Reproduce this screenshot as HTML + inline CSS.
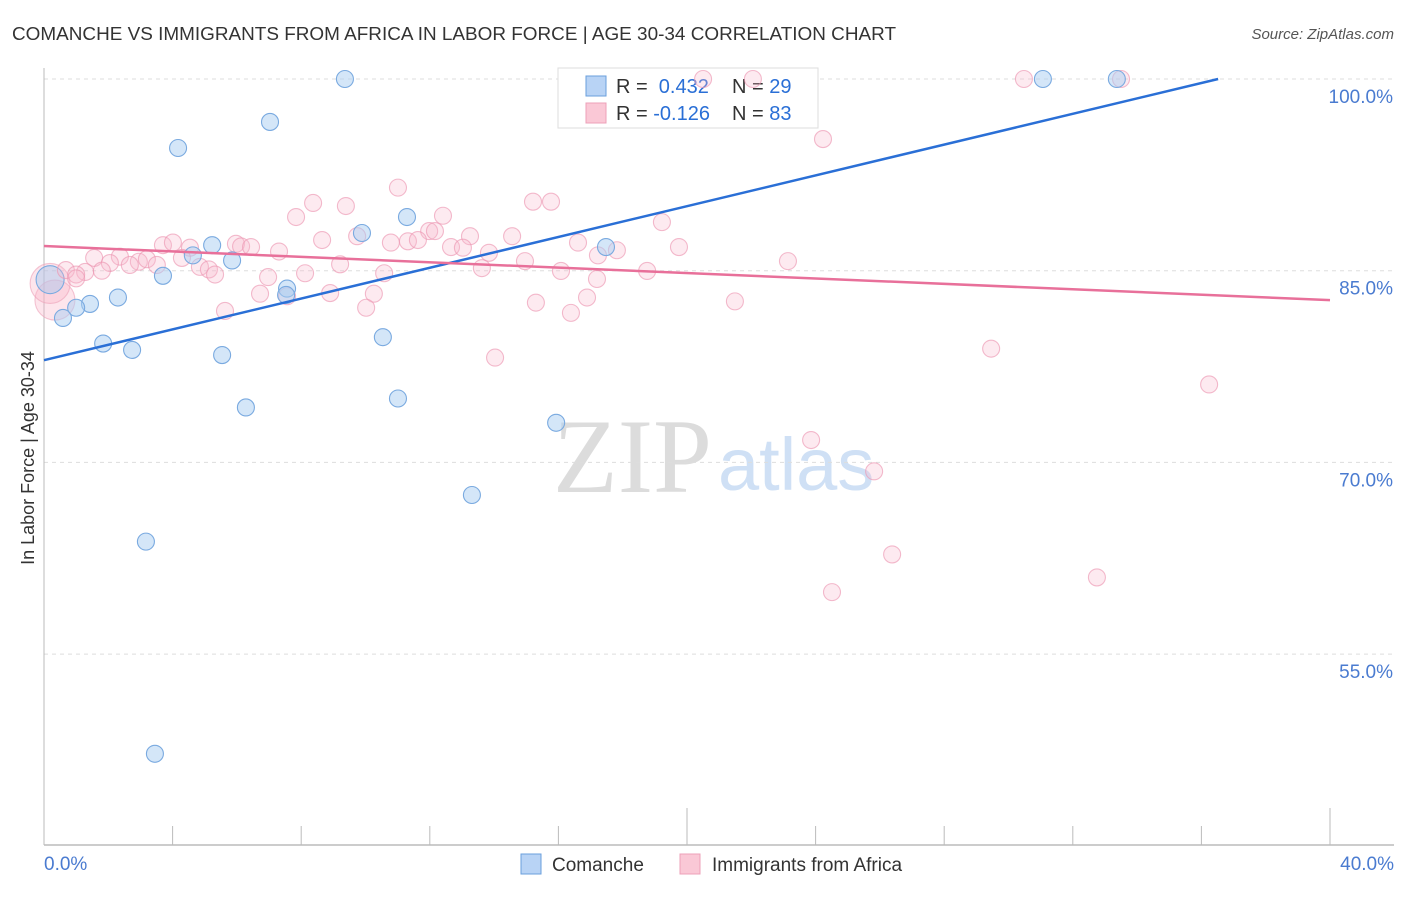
<!DOCTYPE html>
<html><head><meta charset="utf-8"><style>
body{margin:0;background:#fff;font-family:"Liberation Sans",sans-serif}
</style></head><body>
<svg id="c" width="1406" height="892" xmlns="http://www.w3.org/2000/svg">
<text x="12" y="40" font-size="18" fill="#333" textLength="884" lengthAdjust="spacingAndGlyphs">COMANCHE VS IMMIGRANTS FROM AFRICA IN LABOR FORCE | AGE 30-34 CORRELATION CHART</text>
<text x="1394" y="39" font-size="15" fill="#555" font-style="italic" text-anchor="end">Source: ZipAtlas.com</text>
<text x="34" y="458" font-size="18" fill="#333" text-anchor="middle" transform="rotate(-90 34 458)">In Labor Force | Age 30-34</text>
<g>
<text x="553" y="492" font-size="106" fill="#dcdcdc" font-family="Liberation Serif,serif">ZIP</text>
<text x="718" y="490" font-size="74" fill="#cfe0f5">atlas</text>
</g>
<g id="grid"></g><g id="axes"></g>
<g>
<rect x="558" y="68" width="260" height="60" fill="#fff" stroke="#ddd"/>
<rect x="586" y="76" width="20" height="20" fill="#b8d3f5" stroke="#6a9fdc"/>
<rect x="586" y="103" width="20" height="20" fill="#fac8d6" stroke="#eda0b8"/>
<text x="616" y="93" font-size="20" fill="#333">R = <tspan fill="#2a6fd6">&#160;0.432</tspan></text>
<text x="732" y="93" font-size="20" fill="#333">N = <tspan fill="#2a6fd6">29</tspan></text>
<text x="616" y="120" font-size="20" fill="#333">R = <tspan fill="#2a6fd6">-0.126</tspan></text>
<text x="732" y="120" font-size="20" fill="#333">N = <tspan fill="#2a6fd6">83</tspan></text>
</g>
<g id="pts"></g><g id="lines"></g>
<g>
<rect x="521" y="854" width="20" height="20" fill="#b8d3f5" stroke="#6a9fdc"/>
<text x="552" y="871" font-size="19" fill="#333">Comanche</text>
<rect x="680" y="854" width="20" height="20" fill="#fac8d6" stroke="#eda0b8"/>
<text x="712" y="871" font-size="19" fill="#333">Immigrants from Africa</text>
</g>
</svg>
<script>
const yTicks=[100,85,70,55];
const yTickLabels=["100.0%","85.0%","70.0%","55.0%"];
const xTickVals=[0,4,8,12,16,20,24,28,32,36,40];
const xEndLabels=["0.0%","40.0%"];
const blueX=[9.36,7.03,4.17,11.29,9.89,5.23,4.63,5.85,17.48,3.70,7.56,2.30,1.43,1.0,0.59,1.84,2.74,5.54,10.54,11.01,6.28,15.93,13.31,3.17,3.45,31.07,33.37,7.53];
const blueY=[100,96.64,94.6,89.2,87.95,87.0,86.2,85.8,86.85,84.6,83.6,82.9,82.4,82.1,81.3,79.3,78.8,78.4,79.8,75.0,74.3,73.1,67.45,63.8,47.2,100,100,83.1];
const blueBigX=[0.19];
const blueBigY=[84.3];
const pinkX=[30.48,33.5,20.5,22.05,24.23,11.01,8.37,9.39,15.21,15.77,7.84,12.41,19.22,11.98,12.16,13.25,9.74,8.65,11.32,11.63,10.79,14.56,16.61,12.66,13.03,13.84,19.75,3.70,4.01,4.54,5.97,6.13,6.44,7.31,4.29,17.23,17.82,14.96,1.56,2.36,2.95,3.20,2.05,2.67,3.51,4.85,5.13,5.32,6.97,8.12,9.21,10.58,13.62,16.08,18.76,23.14,1.28,1.80,0.68,1.0,17.2,6.72,7.56,8.9,10.26,5.63,10.02,15.3,16.89,16.39,21.49,14.03,29.46,36.24,23.86,25.82,26.38,24.51,32.75,1.0];
const pinkY=[100,100,100,100,95.3,91.5,90.3,90.06,90.4,90.4,89.2,89.3,88.8,88.1,88.1,87.7,87.7,87.4,87.3,87.4,87.2,87.7,87.2,86.85,86.8,86.4,86.85,87.0,87.2,86.8,87.1,86.9,86.85,86.5,86.0,86.2,86.6,85.75,86.0,86.1,85.7,85.9,85.6,85.45,85.45,85.3,85.1,84.7,84.5,84.8,85.5,84.8,85.2,84.98,84.98,85.75,84.9,85.0,85.05,84.7,84.35,83.2,83.0,83.25,83.2,81.85,82.1,82.5,82.9,81.7,82.6,78.2,78.9,76.1,71.75,69.3,62.8,59.85,61.0,84.4];
const pinkBigX=[0.34,0.19];
const pinkBigY=[82.7,84.0];
const blueTrend=[[0,78.0],[36.52,100]];
const pinkTrend=[[0,86.93],[40,82.7]];
const NS='http://www.w3.org/2000/svg';
const sx=v=>44+v/40*1286;
const sy=v=>79+(100-v)*12.78;
function mk(tag,attrs,parent){const e=document.createElementNS(NS,tag);for(const k in attrs)e.setAttribute(k,attrs[k]);document.getElementById(parent).appendChild(e);return e;}
yTicks.forEach((t,i)=>{
 const l=mk('line',{x1:44,x2:1394,y1:sy(t),y2:sy(t),stroke:'#ddd','stroke-dasharray':'4,4'},'grid');
 
 
 const tx=mk('text',{x:1393,y:sy(t)+24,'font-size':19,fill:'#4a7bd0','text-anchor':'end'},'grid');
 tx.textContent=yTickLabels[i];
 
 
});
let ax=mk('line',{x1:44,x2:44,y1:68,y2:845,stroke:'#bbb'},'axes');


ax=mk('line',{x1:44,x2:1394,y1:845,y2:845,stroke:'#bbb','stroke-width':1.5},'axes');


xTickVals.forEach((t,i)=>{
 const long=(t===20||t===40);
 const l=mk('line',{x1:sx(t),x2:sx(t),y1:long?808:826,y2:845,stroke:'#bbb'},'axes');
 
 
});
[[0,'start',44],[1,'end',1394]].forEach(([i,a,x])=>{
 const tx=mk('text',{x:x,y:870,'font-size':19,fill:'#4a7bd0','text-anchor':a},'axes');
 tx.textContent=xEndLabels[i];
 
 
});
function dots(X,Y,r,fill,stroke,name){X.forEach((x,i)=>{
 const c=mk('circle',{cx:sx(x),cy:sy(Y[i]),r:r,fill:fill,stroke:stroke,'stroke-width':1.1},'pts');
 
 
});}
dots(pinkBigX,pinkBigY,20,'rgba(248,180,200,0.35)','rgba(237,160,184,0.6)','africa-point');
dots(blueBigX,blueBigY,14,'rgba(165,200,240,0.45)','#7aaae0','comanche-point');
dots(pinkX,pinkY,8.5,'rgba(248,185,205,0.3)','rgba(237,150,178,0.65)','africa-point');
dots(blueX,blueY,8.5,'rgba(170,205,242,0.5)','#7aaae0','comanche-point');
let tl=mk('line',{x1:sx(blueTrend[0][0]),y1:sy(blueTrend[0][1]),x2:sx(blueTrend[1][0]),y2:sy(blueTrend[1][1]),stroke:'#2a6fd6','stroke-width':2.5},'lines');


tl=mk('line',{x1:sx(pinkTrend[0][0]),y1:sy(pinkTrend[0][1]),x2:sx(pinkTrend[1][0]),y2:sy(pinkTrend[1][1]),stroke:'#e8709a','stroke-width':2.5},'lines');


</script>
</body></html>
